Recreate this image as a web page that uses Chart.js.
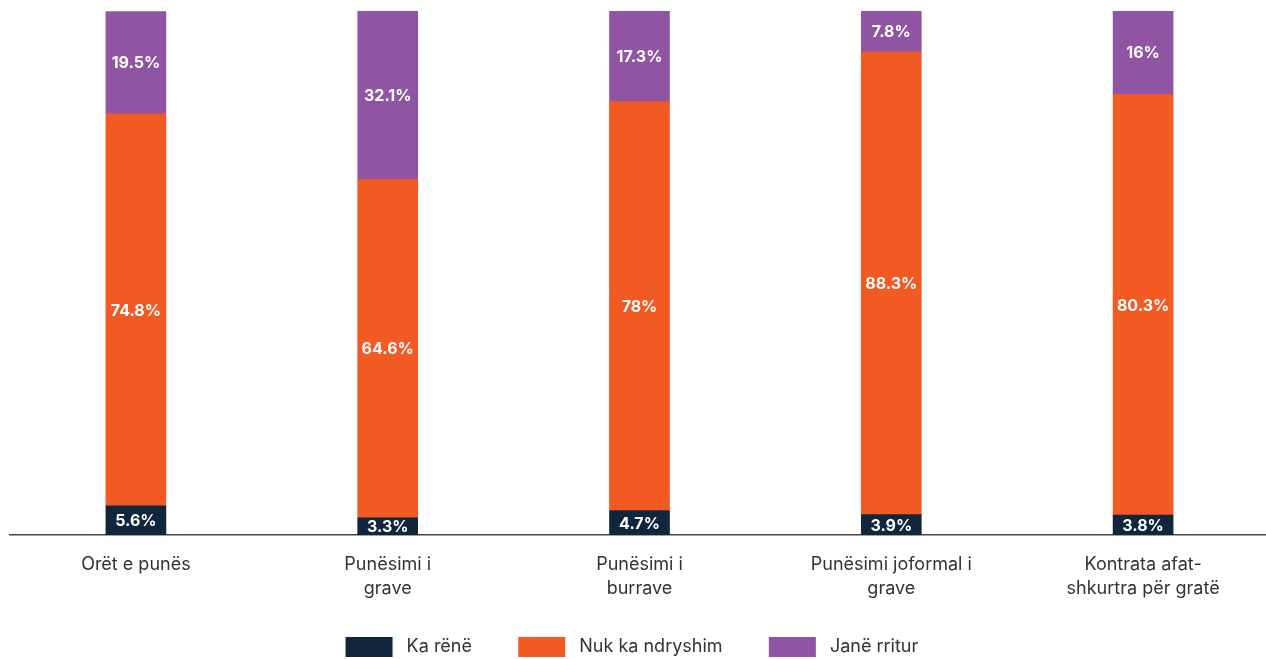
<!DOCTYPE html>
<html>
<head>
<meta charset="utf-8">
<script src="https://cdn.jsdelivr.net/npm/chart.js@4/dist/chart.umd.min.js"></script>
<style>
  html, body { margin: 0; padding: 0; background: #fff; overflow: hidden; }
  #wrap { width: 1269px; height: 659px; position: relative; }
</style>
</head>
<body>
<div id="wrap"><canvas id="chart"></canvas></div>
<script>
// kategorite dhe vlerat (%)
var kategorite = [
	"Orët e punës",
	["Punësimi i", "grave"],
	["Punësimi i", "burrave"],
	["Punësimi joformal i", "grave"],
	["Kontrata afat-", "shkurtra për gratë"]
];
var kaRene = [5.6, 3.3, 4.7, 3.9, 3.8];
var nukKaNdryshim = [74.8, 64.6, 78, 88.3, 80.3];
var janeRritur = [19.5, 32.1, 17.3, 7.8, 16];

var ngjyrat = ["#10263d", "#f15a22", "#8f55a3"];

// etiketat brenda shtyllave
var etiketat = {
	id: "etiketat",
	afterDatasetsDraw: function (chart) {
		var c = chart.ctx;
		c.save();
		c.font = "bold 16px Inter, 'Noto Sans', sans-serif";
		c.fillStyle = "#ffffff";
		c.textAlign = "center";
		c.textBaseline = "middle";
		chart.data.datasets.forEach(function (ds, i) {
			var meta = chart.getDatasetMeta(i);
			meta.data.forEach(function (bar, j) {
				var p = bar.getProps(["x", "y", "base"], true);
				c.fillText(ds.data[j] + "%", p.x, (p.y + p.base) / 2 + 1);
			});
		});
		c.restore();
	}
};

Chart.defaults.font.family = "Inter, 'Noto Sans', sans-serif";
Chart.defaults.color = "#333333";

new Chart(document.getElementById("chart").getContext("2d"), {
	type: "bar",
	data: {
		labels: kategorite,
		datasets: [
			{ label: "Ka rënë", data: kaRene, backgroundColor: ngjyrat[0], barThickness: 60 },
			{ label: "Nuk ka ndryshim", data: nukKaNdryshim, backgroundColor: ngjyrat[1], barThickness: 60 },
			{ label: "Janë rritur", data: janeRritur, backgroundColor: ngjyrat[2], barThickness: 60 }
		]
	},
	options: {
		responsive: true,
		maintainAspectRatio: false,
		animation: false,
		layout: { padding: { left: 10, right: 0, top: 11, bottom: -8 } },
		scales: {
			x: {
				stacked: true,
				grid: { display: false },
				border: { display: true, color: "#444444", width: 1.5 },
				ticks: { font: { size: 18, lineHeight: 1.33 }, color: "#333333", padding: 10, maxRotation: 0 }
			},
			y: {
				stacked: true,
				display: false,
				min: 0,
				max: 100
			}
		},
		plugins: {
			legend: {
				position: "bottom",
				labels: {
					boxWidth: 47,
					boxHeight: 20,
					padding: 26,
					font: { size: 18 },
					color: "#333333",
					generateLabels: function (chart) {
						var items = Chart.defaults.plugins.legend.labels.generateLabels(chart);
						return items.map(function (l, i) {
							l.text = " " + l.text + (i < items.length - 1 ? "    " : "   ");
							return l;
						});
					}
				}
			},
			tooltip: { enabled: false }
		}
	},
	plugins: [etiketat]
});
</script>
</body>
</html>
